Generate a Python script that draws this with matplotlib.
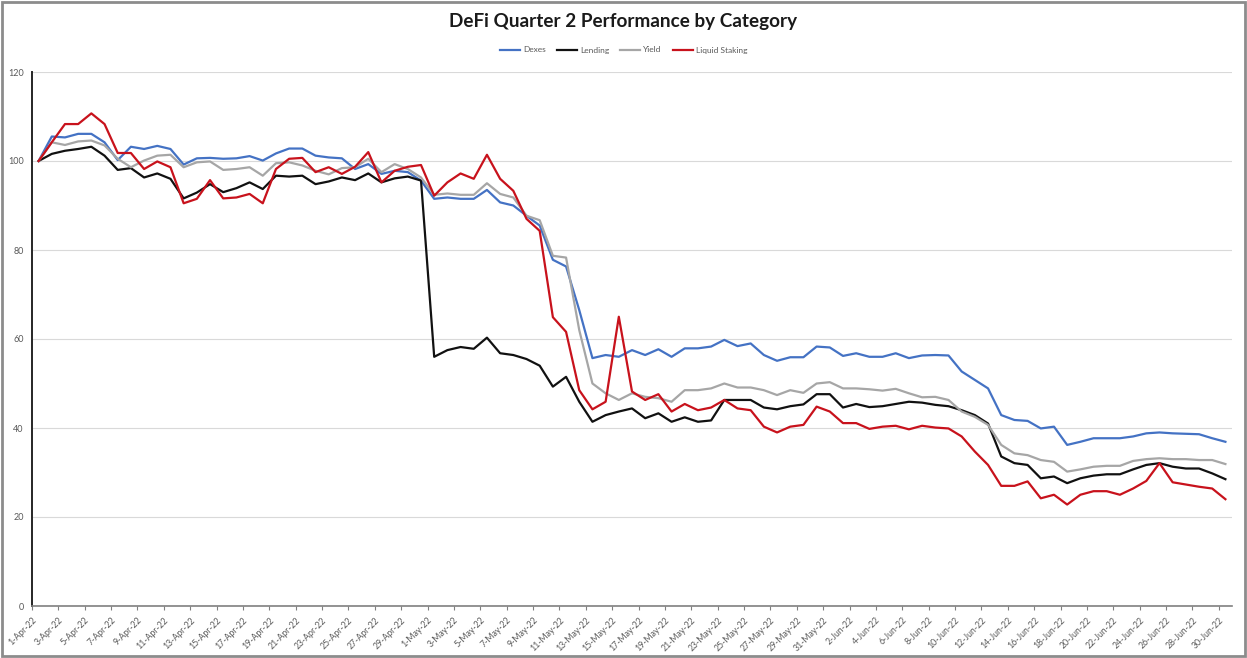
import matplotlib
matplotlib.use('Agg')
import matplotlib.pyplot as plt
import numpy as np
import pandas as pd
from matplotlib.patches import Rectangle

plt.rcParams['font.family'] = ['Lato', 'DejaVu Sans']

dates = pd.date_range('2022-04-01', '2022-06-30', freq='D')
date_labels = [f"{d.day}-{d.strftime('%b-%y')}" for d in dates]

dexes = [100, 105.5, 105.3, 106.1, 106.1, 104.2, 100.2, 103.2, 102.7, 103.4,
         102.7, 99.2, 100.6, 100.7, 100.5, 100.6, 101.1, 100.1, 101.7, 102.8,
         102.8, 101.2, 100.8, 100.6, 98.2, 99.3, 97.1, 97.8, 97.5, 95.6,
         91.5, 91.8, 91.5, 91.5, 93.5, 90.7, 90.0, 87.7, 85.5, 77.8,
         76.3, 66.5, 55.7, 56.4, 56.0, 57.5, 56.4, 57.7, 56.0, 57.9,
         57.9, 58.3, 59.8, 58.4, 59.0, 56.4, 55.1, 55.9, 55.9, 58.3,
         58.1, 56.2, 56.8, 56.0, 56.0, 56.8, 55.7, 56.3, 56.4, 56.3,
         52.7, 50.8, 48.9, 42.9, 41.8, 41.6, 39.9, 40.3, 36.2, 36.9,
         37.7, 37.7, 37.7, 38.1, 38.8, 39.0, 38.8, 38.7, 38.6, 37.7, 36.9]

lending = [100, 101.6, 102.3, 102.7, 103.2, 101.2, 98.0, 98.4, 96.3, 97.2,
           96.0, 91.6, 92.9, 94.8, 93.0, 93.9, 95.2, 93.7, 96.7, 96.5,
           96.7, 94.8, 95.4, 96.3, 95.7, 97.2, 95.2, 96.1, 96.5, 95.6,
           56.0, 57.5, 58.2, 57.8, 60.3, 56.8, 56.4, 55.5, 54.0, 49.3,
           51.5, 45.9, 41.4, 42.9, 43.7, 44.4, 42.2, 43.3, 41.4, 42.4,
           41.4, 41.7, 46.3, 46.3, 46.3, 44.6, 44.2, 44.9, 45.3, 47.6,
           47.6, 44.6, 45.4, 44.7, 44.9, 45.4, 45.9, 45.7, 45.2, 44.9,
           44.0, 42.9, 41.0, 33.6, 32.1, 31.7, 28.7, 29.1, 27.6, 28.7,
           29.3, 29.6, 29.6, 30.7, 31.7, 32.1, 31.3, 30.9, 30.9, 29.8, 28.5]

yld = [100, 104.2, 103.6, 104.4, 104.6, 103.5, 100.5, 98.6, 100.1, 101.2,
       101.4, 98.6, 99.7, 99.9, 98.0, 98.2, 98.6, 96.7, 99.5, 99.7,
       99.0, 97.8, 97.0, 98.4, 98.6, 100.5, 97.5, 99.3, 98.2, 96.3,
       92.4, 92.7, 92.4, 92.4, 95.0, 92.6, 91.8, 87.7, 86.7, 78.7,
       78.3, 62.0, 50.0, 47.8, 46.3, 47.8, 47.0, 46.7, 45.9, 48.5,
       48.5, 48.9, 50.0, 49.1, 49.1, 48.5, 47.4, 48.5, 47.9, 50.0,
       50.3, 48.9, 48.9, 48.7, 48.4, 48.8, 47.8, 46.9, 47.0, 46.3,
       43.7, 42.5, 40.7, 36.2, 34.3, 33.9, 32.8, 32.4, 30.2, 30.7,
       31.3, 31.5, 31.5, 32.6, 33.0, 33.2, 33.0, 33.0, 32.8, 32.8, 31.9]

liquid_staking = [100, 104.2, 108.3, 108.3, 110.7, 108.3, 101.8, 101.8, 98.2, 99.9,
                  98.6, 90.5, 91.5, 95.7, 91.6, 91.8, 92.6, 90.5, 98.2, 100.5,
                  100.7, 97.5, 98.6, 97.1, 98.7, 102.0, 95.2, 97.8, 98.7, 99.1,
                  92.2, 95.2, 97.2, 96.0, 101.4, 96.0, 93.3, 87.0, 84.3, 64.9,
                  61.6, 48.5, 44.2, 45.9, 65.0, 48.2, 46.3, 47.6, 43.7, 45.4,
                  44.0, 44.6, 46.3, 44.4, 44.0, 40.3, 39.0, 40.3, 40.7, 44.8,
                  43.7, 41.1, 41.1, 39.8, 40.3, 40.5, 39.7, 40.5, 40.1, 39.9,
                  38.1, 34.7, 31.7, 27.0, 27.0, 28.0, 24.2, 25.0, 22.8, 25.0,
                  25.8, 25.8, 25.0, 26.4, 28.1, 32.1, 27.8, 27.3, 26.8, 26.4, 24.0]

series = [("Dexes", dexes, '#4472C4'),
          ("Lending", lending, '#111111'),
          ("Yield", yld, '#A6A6A6'),
          ("Liquid Staking", liquid_staking, '#C8121C')]

fig = plt.figure(figsize=(12.47, 6.58), dpi=100)
ax = fig.add_axes([32 / 1247, 1 - 606 / 658, 1200 / 1247, 534 / 658])

x = np.arange(len(dates))
for name, vals, col in series:
    ax.plot(x, vals, color=col, lw=1.6, label=name)

ax.set_xlim(-0.5, len(dates) - 0.5)
ax.set_ylim(0, 120)
ax.set_yticks(range(0, 121, 20))
ax.yaxis.grid(True, color='#D9D9D9', lw=0.8)
ax.set_axisbelow(True)

tick_pos = x[::2] - 0.5
ax.set_xticks(tick_pos)
ax.set_xticklabels(date_labels[::2], rotation=45, ha='right', va='top',
                   rotation_mode='anchor', fontsize=6.3, color='#595959')
ax.tick_params(axis='x', length=3, color='#808080', pad=4)
ax.tick_params(axis='y', length=0, labelsize=6.5, labelcolor='#595959', pad=6)

for s in ['top', 'right']:
    ax.spines[s].set_visible(False)
ax.spines['left'].set_color('#262626')
ax.spines['left'].set_linewidth(1.4)
ax.spines['bottom'].set_color('#808080')
ax.spines['bottom'].set_linewidth(1.2)

fig.suptitle("DeFi Quarter 2 Performance by Category", y=0.967, va='center',
             fontsize=13.6, fontweight='bold', color='#1a1a1a')
fig.legend(loc='center', bbox_to_anchor=(0.5, 1 - 50 / 658), ncol=4, frameon=False,
           fontsize=6, labelcolor='#595959', handlelength=2.4, handletextpad=0.4,
           columnspacing=1.3)

fig.patches.append(Rectangle((0.002, 0.003), 0.996, 0.994, transform=fig.transFigure,
                             fill=False, edgecolor='#8c8c8c', lw=2))

fig.savefig('out.png', dpi=100)
